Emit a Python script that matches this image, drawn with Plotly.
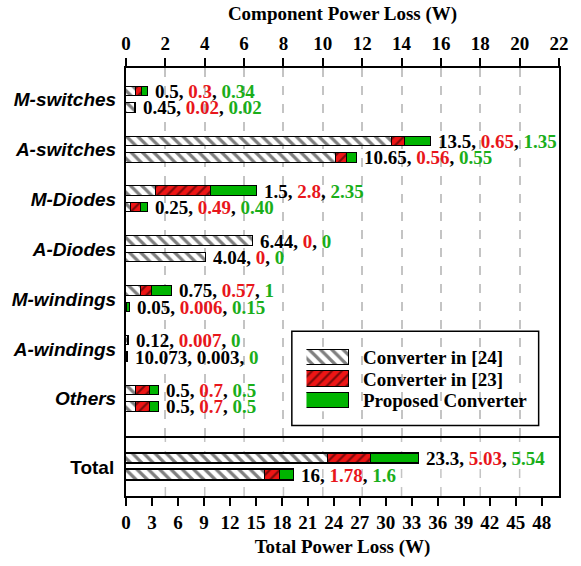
import plotly.graph_objects as go

# ---------------- data ----------------
categories = ["M-switches", "A-switches", "M-Diodes", "A-Diodes", "M-windings", "A-windings", "Others"]

# upper bar of each category
conv24_a = [0.5, 13.5, 1.5, 6.44, 0.75, 0.12, 0.5]
conv23_a = [0.3, 0.65, 2.8, 0, 0.57, 0.007, 0.7]
prop_a = [0.34, 1.35, 2.35, 0, 1, 0, 0.5]
# lower bar of each category
conv24_b = [0.45, 10.65, 0.25, 4.04, 0.05, 0.073, 0.5]
conv23_b = [0.02, 0.56, 0.49, 0, 0.006, 0.003, 0.7]
prop_b = [0.02, 0.55, 0.40, 0, 0.15, 0, 0.5]

# value labels as printed
lbl24_a = ["0.5", "13.5", "1.5", "6.44", "0.75", "0.12", "0.5"]
lbl23_a = ["0.3", "0.65", "2.8", "0", "0.57", "0.007", "0.7"]
lblp_a = ["0.34", "1.35", "2.35", "0", "1", "0", "0.5"]
lbl24_b = ["0.45", "10.65", "0.25", "4.04", "0.05", "10.073", "0.5"]
lbl23_b = ["0.02", "0.56", "0.49", "0", "0.006", "0.003", "0.7"]
lblp_b = ["0.02", "0.55", "0.40", "0", "0.15", "0", "0.5"]

total_category = ["Total"]
total24 = [23.3, 16]
total23 = [5.03, 1.78]
totalp = [5.54, 1.6]
lbl_total24 = ["23.3", "16"]
lbl_total23 = ["5.03", "1.78"]
lbl_totalp = ["5.54", "1.6"]

series_names = ["Converter in [24]", "Converter in [23]", "Proposed Converter"]
top_ticks = [0, 2, 4, 6, 8, 10, 12, 14, 16, 18, 20, 22]
bottom_ticks = [0, 3, 6, 9, 12, 15, 18, 21, 24, 27, 30, 33, 36, 39, 42, 45, 48]

# ---------------- style ----------------
RED = "#ee1515"
GREEN = "#00b400"
RED_T = "#e8161b"
GREEN_T = "#1aae1a"
SERIF = "Liberation Serif"
SANS = "Liberation Sans"
FS = 19

OFF = 0.165      # offset of the two bars around the category centre (category units)
BW = 0.19        # bar width (category units)
OFF2 = 8.3       # total panel (its own units)
BW2 = 10.5

n = len(categories)
y_a = [i - OFF for i in range(n)]
y_b = [i + OFF for i in range(n)]
y_pos = y_a + y_b

patterns = [
    dict(shape="\\", bgcolor="white", fgcolor="black", size=8, solidity=0.4),
    dict(shape="/", bgcolor=RED, fgcolor="black", size=7, solidity=0.3),
    dict(shape="", bgcolor=GREEN, fgcolor=GREEN),
]
fills = ["white", RED, GREEN]
outline = dict(color="black", width=1.3)

fig = go.Figure()
series_top = [conv24_a + conv24_b, conv23_a + conv23_b, prop_a + prop_b]
series_tot = [total24, total23, totalp]
for k in range(3):
    fig.add_trace(go.Bar(
        x=series_top[k], y=y_pos, orientation="h", width=BW,
        name=series_names[k], xaxis="x", yaxis="y",
        marker=dict(color=fills[k], pattern=patterns[k], line=outline),
        showlegend=False,
    ))
for k in range(3):
    fig.add_trace(go.Bar(
        x=series_tot[k], y=[-OFF2, OFF2], orientation="h", width=BW2,
        name=series_names[k], xaxis="x2", yaxis="y2",
        marker=dict(color=fills[k], pattern=patterns[k], line=outline),
        showlegend=False,
    ))
# legend swatches (drawn in a small hidden inset axis inside the legend frame)
for k in range(3):
    fig.add_trace(go.Bar(
        x=[1], y=[k], orientation="h", width=0.72,
        name=series_names[k], xaxis="x3", yaxis="y3",
        marker=dict(color=fills[k], pattern=patterns[k], line=outline),
        showlegend=False, hoverinfo="skip",
    ))


def label(a, b, c, mid_color=RED_T):
    return (f"{a}, <span style='color:{mid_color}'>{b}</span>, "
            f"<span style='color:{GREEN_T}'>{c}</span>")


annotations = []
for i in range(n):
    ta = conv24_a[i] + conv23_a[i] + prop_a[i]
    tb = conv24_b[i] + conv23_b[i] + prop_b[i]
    annotations.append(dict(x=ta, y=y_a[i], xref="x", yref="y", xanchor="left", yanchor="middle",
                            xshift=5, showarrow=False,
                            text=label(lbl24_a[i], lbl23_a[i], lblp_a[i])))
    mid = "black" if categories[i] == "A-windings" else RED_T
    annotations.append(dict(x=tb, y=y_b[i], xref="x", yref="y", xanchor="left", yanchor="middle",
                            xshift=5, showarrow=False,
                            text=label(lbl24_b[i], lbl23_b[i], lblp_b[i], mid)))
for j, yy in enumerate([-OFF2, OFF2]):
    t = total24[j] + total23[j] + totalp[j]
    annotations.append(dict(x=t, y=yy, xref="x2", yref="y2", xanchor="left", yanchor="middle",
                            xshift=5, showarrow=False,
                            text=label(lbl_total24[j], lbl_total23[j], lbl_totalp[j])))
for k in range(3):
    annotations.append(dict(x=1, y=k, xref="x3", yref="y3", xanchor="left", yanchor="middle",
                            xshift=11, showarrow=False, text=series_names[k]))
for a in annotations:
    a["font"] = dict(family=SERIF, size=FS, color="black", weight="bold")

shapes = []
for v in top_ticks[1:-1]:
    shapes.append(dict(type="line", xref="x", yref="y2 domain", x0=v, x1=v, y0=0, y1=1,
                       line=dict(color="#c4c4c4", width=1.5, dash="dash"), layer="below"))
# legend frame
shapes.append(dict(type="rect", xref="paper", yref="paper", x0=0.383, x1=0.953, y0=0.165, y1=0.385,
                   line=dict(color="black", width=1.5), fillcolor="white", layer="below"))

SPLIT = 0.141
axis_font = dict(family=SERIF, size=FS, color="black", weight="bold")

fig.update_layout(
    width=581, height=566,
    margin=dict(l=126, r=20, t=65, b=69),
    paper_bgcolor="white", plot_bgcolor="white",
    barmode="stack", bargap=0,
    showlegend=False,
    xaxis=dict(domain=[0, 1], anchor="y", side="top", range=[0, 22],
               tickmode="array", tickvals=top_ticks, ticktext=[str(t) for t in top_ticks],
               ticks="outside", ticklen=8, tickwidth=1.5, tickcolor="black",
               tickfont=axis_font,
               showline=True, linecolor="black", linewidth=2, mirror=True,
               showgrid=True, gridcolor="#c4c4c4", gridwidth=1.5, griddash="dash",
               zeroline=False,
               title=dict(text="Component Power Loss (W)", font=axis_font, standoff=8)),
    yaxis=dict(domain=[SPLIT, 1], anchor="x", range=[6.74, -0.636],
               tickmode="array", tickvals=list(range(n)), ticktext=categories,
               ticks="", ticklabelstandoff=4,
               tickfont=dict(family=SANS, size=FS, color="black", weight="bold", style="italic"),
               showline=True, linecolor="black", linewidth=2, mirror=True,
               showgrid=False, zeroline=False),
    xaxis2=dict(domain=[0, 1], anchor="y2", side="bottom", range=[0, 50],
                tickmode="array", tickvals=bottom_ticks, ticktext=[str(t) for t in bottom_ticks],
                ticks="outside", ticklen=8, tickwidth=1.5, tickcolor="black",
                tickfont=axis_font,
                showline=True, linecolor="black", linewidth=2, mirror=False,
                showgrid=False, zeroline=False,
                title=dict(text="Total Power Loss (W)", font=axis_font, standoff=8)),
    yaxis2=dict(domain=[0, SPLIT], anchor="x2", range=[29.3, -31.7],
                tickmode="array", tickvals=[0], ticktext=total_category,
                ticks="", ticklabelstandoff=6,
                tickfont=dict(family=SANS, size=FS, color="black", weight="bold"),
                showline=True, linecolor="black", linewidth=2, mirror=True,
                showgrid=False, zeroline=False),
    xaxis3=dict(domain=[0.4168, 0.5166], anchor="y3", range=[0, 1], visible=False, fixedrange=True),
    yaxis3=dict(domain=[0.1979, 0.3484], anchor="x3", range=[2.5, -0.5], visible=False, fixedrange=True),
    annotations=annotations,
    shapes=shapes,
)

fig.write_html("out.html")
